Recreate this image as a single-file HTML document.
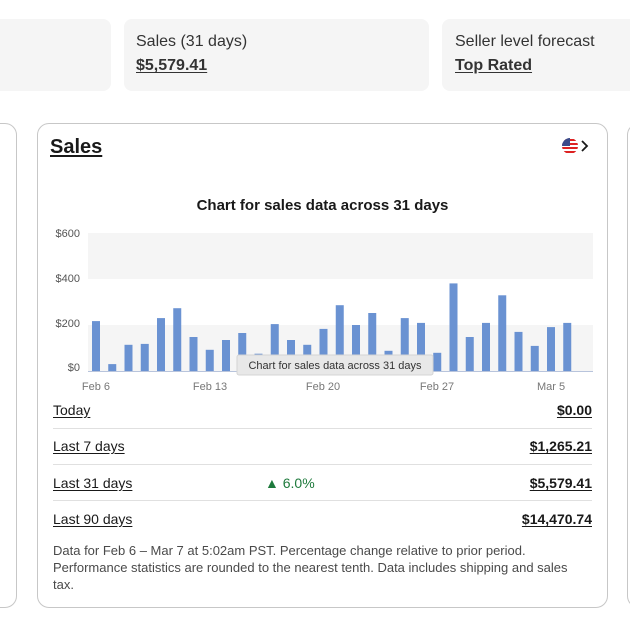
<!DOCTYPE html>
<html><head><meta charset="utf-8"><style>
*{margin:0;padding:0;box-sizing:border-box}
body{width:630px;height:618px;overflow:hidden;background:#fff;font-family:"Liberation Sans",sans-serif;color:#191919;position:relative}
.a{position:absolute;white-space:nowrap}
.card{position:absolute;background:#f5f5f5;border-radius:8px}
.u{text-decoration:underline;text-underline-offset:2px}
.row{position:absolute;left:53px;width:539px;font-size:14px}
.row .r{position:absolute;right:0;font-weight:bold}
.hr{position:absolute;left:53px;width:539px;height:1px;background:#e0e0e0}
</style></head><body>
<div class="card" style="left:-20px;top:19px;width:131px;height:72px"></div>
<div class="card" style="left:124px;top:19px;width:305px;height:72px"></div>
<div class="card" style="left:442px;top:19px;width:210px;height:72px"></div>
<div class="a" style="left:136px;top:33px;font-size:16px;color:#333">Sales (31 days)</div>
<div class="a u" style="left:136px;top:57px;font-size:16px;font-weight:bold;color:#333">$5,579.41</div>
<div class="a" style="left:455px;top:33px;font-size:16px;color:#333">Seller level forecast</div>
<div class="a u" style="left:455px;top:57px;font-size:16px;font-weight:bold;color:#333">Top Rated</div>

<div style="position:absolute;left:-30px;top:123px;width:47px;height:485px;border:1px solid #c7c7c7;border-radius:12px"></div>
<div style="position:absolute;left:627px;top:123px;width:40px;height:485px;border:1px solid #c7c7c7;border-radius:12px"></div>
<div style="position:absolute;left:37px;top:123px;width:571px;height:485px;border:1px solid #c7c7c7;border-radius:12px"></div>

<div class="a u" style="left:50px;top:136px;font-size:20px;font-weight:bold">Sales</div>
<svg class="a" style="left:561px;top:137px" width="32" height="18" viewBox="0 0 32 18">
<defs><clipPath id="c"><circle cx="9" cy="9" r="8"/></clipPath></defs>
<g clip-path="url(#c)"><rect x="0" y="0" width="18" height="18" fill="#fff"/>
<rect x="0" y="2" width="18" height="2" fill="#d22"/><rect x="0" y="6" width="18" height="2" fill="#d22"/><rect x="0" y="10" width="18" height="2" fill="#d22"/><rect x="0" y="14" width="18" height="2" fill="#d22"/>
<rect x="0" y="0" width="9" height="9" fill="#3b4a8a"/></g>
<path d="M21 4 L26 9 L21 14" fill="none" stroke="#191919" stroke-width="1.8"/></svg>

<div class="a" style="left:0;width:645px;text-align:center;top:197px;font-size:15px;font-weight:bold">Chart for sales data across 31 days</div>

<svg class="a" style="left:0;top:0" width="630" height="400">
<rect x="88" y="233" width="505" height="46" fill="#f5f5f5"/>
<rect x="88" y="325" width="505" height="46" fill="#f5f5f5"/>
<g fill="#6a92d2" transform="translate(0,371) scale(1,-1)">
<rect x="92" y="0" width="8" height="49.9"/><rect x="108.25" y="0" width="8" height="6.9"/><rect x="124.5" y="0" width="8" height="26.2"/><rect x="140.75" y="0" width="8" height="27.1"/><rect x="157" y="0" width="8" height="52.9"/><rect x="173.25" y="0" width="8" height="62.8"/><rect x="189.5" y="0" width="8" height="34"/><rect x="205.75" y="0" width="8" height="21.2"/><rect x="222" y="0" width="8" height="31"/><rect x="238.25" y="0" width="8" height="38"/><rect x="254.5" y="0" width="8" height="17.3"/><rect x="270.75" y="0" width="8" height="46.9"/><rect x="287" y="0" width="8" height="31"/><rect x="303.25" y="0" width="8" height="26.2"/><rect x="319.5" y="0" width="8" height="42.1"/><rect x="335.75" y="0" width="8" height="65.8"/><rect x="352" y="0" width="8" height="46"/><rect x="368.25" y="0" width="8" height="58"/><rect x="384.5" y="0" width="8" height="20.2"/><rect x="400.75" y="0" width="8" height="52.9"/><rect x="417" y="0" width="8" height="48.1"/><rect x="433.25" y="0" width="8" height="18.2"/><rect x="449.5" y="0" width="8" height="87.6"/><rect x="465.75" y="0" width="8" height="34"/><rect x="482" y="0" width="8" height="48.1"/><rect x="498.25" y="0" width="8" height="75.7"/><rect x="514.5" y="0" width="8" height="39.1"/><rect x="530.75" y="0" width="8" height="25.1"/><rect x="547" y="0" width="8" height="43.9"/><rect x="563.25" y="0" width="8" height="48.1"/>
</g>
<line x1="88" y1="371.5" x2="593" y2="371.5" stroke="#b8c4dc" stroke-width="1"/>
<g font-family="Liberation Sans, sans-serif" font-size="11" fill="#555" text-anchor="end">
<text x="80" y="237">$600</text><text x="80" y="282">$400</text><text x="80" y="327">$200</text><text x="80" y="371">$0</text></g>
<g font-family="Liberation Sans, sans-serif" font-size="11" fill="#777" text-anchor="middle">
<text x="96" y="390">Feb 6</text><text x="210" y="390">Feb 13</text><text x="323" y="390">Feb 20</text><text x="437" y="390">Feb 27</text><text x="551" y="390">Mar 5</text></g>
<rect x="237" y="355" width="196" height="20" rx="2" fill="#e8e8e8" stroke="#d4d4d4"/>
<text x="335" y="369" font-family="Liberation Sans, sans-serif" font-size="11" fill="#333" text-anchor="middle">Chart for sales data across 31 days</text>
</svg>

<div class="row" style="top:402px"><span class="u">Today</span><span class="r u">$0.00</span></div>
<div class="hr" style="top:428px"></div>
<div class="row" style="top:438px"><span class="u">Last 7 days</span><span class="r u">$1,265.21</span></div>
<div class="hr" style="top:464px"></div>
<div class="row" style="top:475px"><span class="u">Last 31 days</span><span class="a" style="left:212px;color:#1e7a3c">&#9650; 6.0%</span><span class="r u">$5,579.41</span></div>
<div class="hr" style="top:500px"></div>
<div class="row" style="top:511px"><span class="u">Last 90 days</span><span class="r u">$14,470.74</span></div>
<div class="a" style="left:53px;top:542px;font-size:13px;line-height:17px;color:#4a4a4a">Data for Feb 6 – Mar 7 at 5:02am PST. Percentage change relative to prior period.<br>Performance statistics are rounded to the nearest tenth. Data includes shipping and sales<br>tax.</div>
</body></html>
